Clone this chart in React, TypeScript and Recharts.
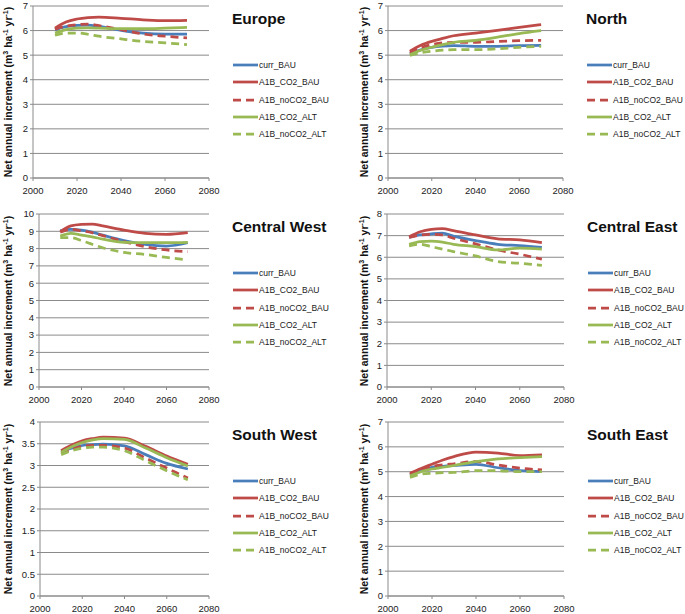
import { CartesianGrid, Line, LineChart, XAxis, YAxis } from "recharts";

const years = [2010, 2015, 2020, 2025, 2030, 2040, 2050, 2060, 2070];
const xTicks = [2000, 2020, 2040, 2060, 2080];
const seriesNames = ["curr_BAU", "A1B_CO2_BAU", "A1B_noCO2_BAU", "A1B_CO2_ALT", "A1B_noCO2_ALT"];

const europe = {
  curr_BAU: [6.04, 6.16, 6.21, 6.22, 6.17, 6.01, 5.9, 5.86, 5.86],
  A1B_CO2_BAU: [6.1, 6.35, 6.47, 6.53, 6.55, 6.5, 6.44, 6.4, 6.42],
  A1B_noCO2_BAU: [6.06, 6.18, 6.24, 6.26, 6.2, 6.04, 5.86, 5.77, 5.7],
  A1B_CO2_ALT: [5.9, 6.04, 6.1, 6.11, 6.1, 6.08, 6.08, 6.1, 6.13],
  A1B_noCO2_ALT: [5.81, 5.9, 5.9, 5.85, 5.77, 5.66, 5.56, 5.5, 5.43],
};
const north = {
  curr_BAU: [5.06, 5.22, 5.32, 5.37, 5.39, 5.36, 5.36, 5.39, 5.4],
  A1B_CO2_BAU: [5.16, 5.4, 5.56, 5.68, 5.79, 5.9, 6.01, 6.13, 6.24],
  A1B_noCO2_BAU: [5.09, 5.3, 5.43, 5.5, 5.52, 5.52, 5.56, 5.59, 5.6],
  A1B_CO2_ALT: [5.02, 5.2, 5.32, 5.43, 5.52, 5.6, 5.73, 5.88, 6.0],
  A1B_noCO2_ALT: [4.99, 5.1, 5.16, 5.2, 5.22, 5.22, 5.26, 5.32, 5.36],
};
const centralWest = {
  curr_BAU: [9.03, 9.11, 9.07, 8.95, 8.78, 8.46, 8.24, 8.15, 8.34],
  A1B_CO2_BAU: [8.98, 9.31, 9.4, 9.42, 9.31, 9.07, 8.88, 8.82, 8.92],
  A1B_noCO2_BAU: [8.94, 9.11, 9.03, 8.92, 8.75, 8.4, 8.11, 7.92, 7.82],
  A1B_CO2_ALT: [8.73, 8.88, 8.78, 8.68, 8.55, 8.36, 8.34, 8.34, 8.36],
  A1B_noCO2_ALT: [8.63, 8.63, 8.46, 8.25, 8.05, 7.78, 7.66, 7.49, 7.34],
};
const centralEast = {
  curr_BAU: [6.92, 7.03, 7.08, 7.11, 6.98, 6.77, 6.6, 6.54, 6.46],
  A1B_CO2_BAU: [6.95, 7.18, 7.29, 7.32, 7.23, 7.03, 6.85, 6.8, 6.68],
  A1B_noCO2_BAU: [6.92, 7.02, 7.06, 7.03, 6.88, 6.62, 6.34, 6.14, 5.91],
  A1B_CO2_ALT: [6.6, 6.72, 6.75, 6.7, 6.6, 6.49, 6.34, 6.42, 6.38],
  A1B_noCO2_ALT: [6.52, 6.6, 6.49, 6.38, 6.26, 6.06, 5.8, 5.72, 5.62],
};
const southWest = {
  curr_BAU: [3.32, 3.4, 3.46, 3.48, 3.49, 3.45, 3.25, 3.05, 2.92],
  A1B_CO2_BAU: [3.34, 3.47, 3.57, 3.62, 3.65, 3.63, 3.44, 3.22, 3.03],
  A1B_noCO2_BAU: [3.28, 3.37, 3.44, 3.46, 3.46, 3.4, 3.17, 2.94, 2.71],
  A1B_CO2_ALT: [3.3, 3.43, 3.53, 3.59, 3.62, 3.6, 3.4, 3.18, 2.99],
  A1B_noCO2_ALT: [3.25, 3.34, 3.4, 3.42, 3.42, 3.34, 3.11, 2.88, 2.67],
};
const southEast = {
  curr_BAU: [4.87, 5.06, 5.18, 5.22, 5.25, 5.3, 5.16, 5.04, 5.0],
  A1B_CO2_BAU: [4.94, 5.13, 5.3, 5.47, 5.61, 5.79, 5.75, 5.65, 5.68],
  A1B_noCO2_BAU: [4.9, 5.08, 5.21, 5.28, 5.32, 5.41, 5.27, 5.14, 5.07],
  A1B_CO2_ALT: [4.83, 5.0, 5.11, 5.18, 5.25, 5.41, 5.52, 5.57, 5.61],
  A1B_noCO2_ALT: [4.77, 4.9, 4.94, 4.96, 4.97, 5.04, 5.04, 5.0, 5.0],
};

const ticks7 = [0, 1, 2, 3, 4, 5, 6, 7];
const ticks8 = [0, 1, 2, 3, 4, 5, 6, 7, 8];
const ticks10 = [0, 1, 2, 3, 4, 5, 6, 7, 8, 9, 10];
const ticks4 = [0, 0.5, 1, 1.5, 2, 2.5, 3, 3.5, 4];

const styles: Record<string, { color: string; dash?: string }> = {
  curr_BAU: { color: "#4a7ebb" },
  A1B_CO2_BAU: { color: "#be4b48" },
  A1B_noCO2_BAU: { color: "#be4b48", dash: "8 5" },
  A1B_CO2_ALT: { color: "#98b954" },
  A1B_noCO2_ALT: { color: "#98b954", dash: "8 5" },
};

const GRID = "#8a8a8a";
const TICK_FONT = "'Liberation Sans Narrow', 'Liberation Sans', Arial, sans-serif";

type PanelProps = {
  title: string;
  values: Record<string, number[]>;
  yTicks: number[];
  box: [number, number, number, number];
  plot: [number, number, number, number]; // left, right, top, bottom (page px)
  labelX: number;
};

function Panel({ title, values, yTicks, box, plot, labelX }: PanelProps) {
  const [bx, by, bw, bh] = box;
  const [pl, pr, pt, pb] = plot;
  const yW = 30;
  const xH = 22;
  const data = years.map((year, i) => {
    const row: Record<string, number> = { year };
    seriesNames.forEach((s) => (row[s] = values[s][i]));
    return row;
  });
  const yMax = yTicks[yTicks.length - 1];

  return (
    <>
      <div style={{ position: "absolute", left: bx, top: by }}>
        <LineChart
          width={bw}
          height={bh}
          data={data}
          margin={{ left: pl - bx - yW, right: bx + bw - pr, top: pt - by, bottom: by + bh - pb - xH }}
        >
          <CartesianGrid vertical={false} stroke={GRID} strokeWidth={1} />
          <XAxis
            type="number"
            dataKey="year"
            domain={[2000, 2080]}
            ticks={xTicks}
            height={xH}
            stroke={GRID}
            tickSize={3}
            tickMargin={6}
            tick={{ fontSize: 9.5, fill: "#222", fontFamily: TICK_FONT }}
          />
          <YAxis
            domain={[0, yMax]}
            ticks={yTicks}
            width={yW}
            stroke={GRID}
            tickSize={3}
            interval={0}
            tick={{ fontSize: 9.5, fill: "#222", fontFamily: TICK_FONT }}
          />
          {seriesNames.map((s) => (
            <Line
              key={s}
              type="monotone"
              dataKey={s}
              stroke={styles[s].color}
              strokeDasharray={styles[s].dash}
              strokeWidth={2.75}
              dot={false}
              isAnimationActive={false}
            />
          ))}
        </LineChart>
      </div>
      <div
        style={{
          position: "absolute",
          left: labelX,
          top: (pt + pb) / 2,
          transform: "translate(-50%, -50%) rotate(-90deg)",
          whiteSpace: "nowrap",
          fontFamily: TICK_FONT,
          fontWeight: "bold",
          fontSize: 10.5,
          color: "#111",
        }}
      >
        Net annual increment (m<sup style={{ fontSize: 7 }}>3</sup> ha<sup style={{ fontSize: 7 }}>-1</sup> yr
        <sup style={{ fontSize: 7 }}>-1</sup>)
      </div>
      <div
        style={{
          position: "absolute",
          left: pr + 23,
          top: pt + 13,
          transform: "translateY(-50%)",
          fontFamily: "'Liberation Sans', Arial, sans-serif",
          fontWeight: "bold",
          fontSize: 15.5,
          color: "#111",
          whiteSpace: "nowrap",
        }}
      >
        {title}
      </div>
      {seriesNames.map((s, i) => (
        <div
          key={s}
          style={{
            position: "absolute",
            left: pr + 24,
            top: pt + 59 + i * 17.3 - 6,
            height: 12,
            display: "flex",
            alignItems: "center",
            fontFamily: "'Liberation Sans', Arial, sans-serif",
            fontSize: 8.5,
            color: "#1a1a1a",
            whiteSpace: "nowrap",
          }}
        >
          <svg width={25} height={12}>
            <line x1={0} y1={6} x2={25} y2={6} stroke={styles[s].color} strokeWidth={2.75} strokeDasharray={styles[s].dash} />
          </svg>
          <span style={{ marginLeft: 1 }}>{s}</span>
        </div>
      ))}
    </>
  );
}

export default function App() {
  return (
    <div style={{ position: "absolute", left: 0, top: 0, width: 685, height: 614, background: "#fff" }}>
      <Panel title="Europe" values={europe} yTicks={ticks7} box={[0, 0, 340, 200]} plot={[33, 209, 6, 178]} labelX={8} />
      <Panel title="North" values={north} yTicks={ticks7} box={[340, 0, 345, 200]} plot={[388, 563, 6, 178]} labelX={364} />
      <Panel title="Central West" values={centralWest} yTicks={ticks10} box={[0, 200, 340, 205]} plot={[39, 209, 214, 387]} labelX={8} />
      <Panel title="Central East" values={centralEast} yTicks={ticks8} box={[340, 200, 345, 205]} plot={[387, 564, 214, 387]} labelX={364} />
      <Panel title="South West" values={southWest} yTicks={ticks4} box={[0, 405, 340, 209]} plot={[40, 209, 422, 596]} labelX={8} />
      <Panel title="South East" values={southEast} yTicks={ticks7} box={[340, 405, 345, 209]} plot={[388, 564, 422, 596]} labelX={364} />
    </div>
  );
}
